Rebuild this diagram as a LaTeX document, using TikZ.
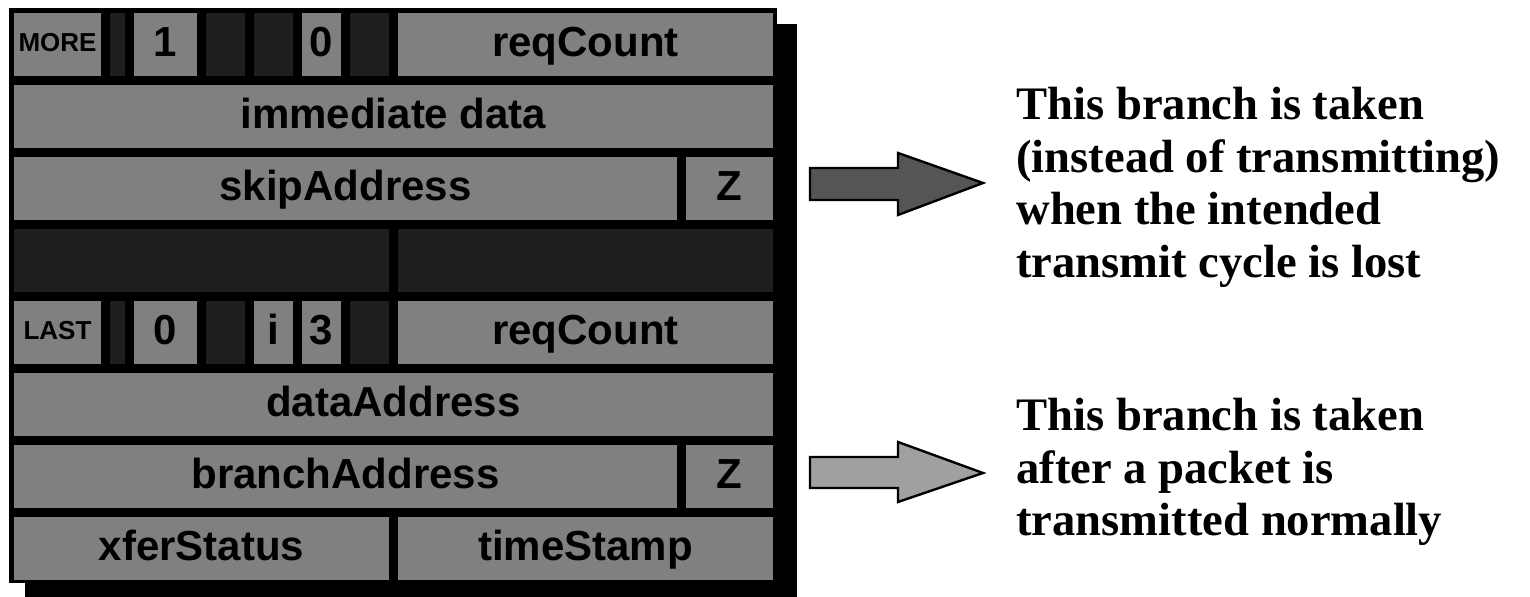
\documentclass[tikz,border=0pt]{standalone}
\usepackage{fontspec}
\setmainfont{Liberation Serif}
\setsansfont{Liberation Sans}
\definecolor{fieldgray}{HTML}{808080}
\definecolor{fielddark}{HTML}{1E1E1E}
\definecolor{arrowdark}{HTML}{555555}
\definecolor{arrowlight}{HTML}{A0A0A0}
% line pitch for the explanations
\newcommand\notefont{\rmfamily\bfseries\fontsize{23.3pt}{26.25pt}\selectfont}
\tikzset{
  field/.style={fill=fieldgray, inner sep=0pt, text height=14pt, text depth=1.5pt,
    font=\sffamily\bfseries\fontsize{21pt}{25pt}\selectfont},
  smallfield/.style={field, text height=9pt, text depth=1.5pt,
    font=\sffamily\bfseries\fontsize{13pt}{15pt}\selectfont},
  reserved/.style={fill=fielddark, inner sep=0pt},
  note/.style={inner sep=0pt, align=left, anchor=north west, font=\notefont},
  blockarrow/.style={draw=black, line width=1.2pt, line join=miter},
}
% one bit field: name, row, first bit, end bit, style, text (32 bits per row)
\newcommand\fieldbox[6]{%
  \pgfmathsetmacro\fbw{(24*(#4-#3)-9)*0.5}%
  \pgfmathsetmacro\fbx{14+24*#3+(24*(#4-#3)-9)/2}%
  \pgfmathsetmacro\fby{13+72*#2+31.5}%
  \node[#5, minimum width=\fbw pt, minimum height=31.5pt] (#1) at (\fbx,\fby) {#6};}
\begin{document}
\begin{tikzpicture}[x=0.5pt, y=-0.5pt]
\useasboundingbox (0,0) rectangle (1530,597);
% drop shadow and frame of the descriptor block
\fill[black] (25,24) rectangle (797,597);
\fill[black] (9,8) rectangle (777,583);
% row 0: control word of the first descriptor
\fieldbox{more}{0}{0}{4}{smallfield}{MORE}
\fieldbox{ra}{0}{4}{5}{reserved}{}
\fieldbox{keyA}{0}{5}{8}{field}{1}
\fieldbox{rb}{0}{8}{10}{reserved}{}
\fieldbox{rc}{0}{10}{12}{reserved}{}
\fieldbox{bA}{0}{12}{14}{field}{0}
\fieldbox{rd}{0}{14}{16}{reserved}{}
\fieldbox{reqA}{0}{16}{32}{field}{reqCount}
% row 1
\fieldbox{imm}{1}{0}{32}{field}{immediate data}
% row 2
\fieldbox{skip}{2}{0}{28}{field}{skipAddress}
\fieldbox{zA}{2}{28}{32}{field}{Z}
% row 3: unused quadlet
\fieldbox{re}{3}{0}{16}{reserved}{}
\fieldbox{rf}{3}{16}{32}{reserved}{}
% row 4: control word of the last descriptor
\fieldbox{last}{4}{0}{4}{smallfield}{LAST}
\fieldbox{rg}{4}{4}{5}{reserved}{}
\fieldbox{keyB}{4}{5}{8}{field}{0}
\fieldbox{rh}{4}{8}{10}{reserved}{}
\fieldbox{intr}{4}{10}{12}{field}{i}
\fieldbox{bB}{4}{12}{14}{field}{3}
\fieldbox{ri}{4}{14}{16}{reserved}{}
\fieldbox{reqB}{4}{16}{32}{field}{reqCount}
% rows 5 to 7
\fieldbox{data}{5}{0}{32}{field}{dataAddress}
\fieldbox{branch}{6}{0}{28}{field}{branchAddress}
\fieldbox{zB}{6}{28}{32}{field}{Z}
\fieldbox{xfer}{7}{0}{16}{field}{xferStatus}
\fieldbox{stamp}{7}{16}{32}{field}{timeStamp}
% block arrows
\draw[blockarrow, fill=arrowdark] (810,168) -- (898,168) -- (898,153) -- (983,183)
  -- (898,215) -- (898,200) -- (810,200) -- cycle;
\draw[blockarrow, fill=arrowlight] (810,457) -- (898,457) -- (898,442) -- (983,473)
  -- (898,502) -- (898,488) -- (810,488) -- cycle;
% explanations
\node[note] (skipnote) at (1016,87) {This branch is taken\\(instead of transmitting)\\when the intended\\transmit cycle is lost};
\node[note] (branchnote) at (1016,398) {This branch is taken\\after a packet is\\transmitted normally};
\end{tikzpicture}
\end{document}
